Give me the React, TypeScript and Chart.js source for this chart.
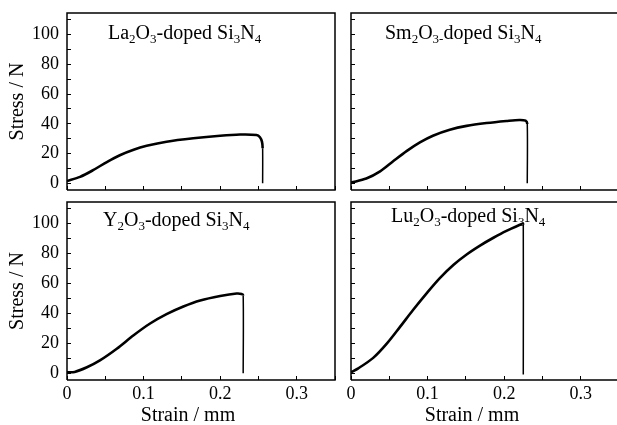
import React, { useEffect, useRef } from "react";
import { Chart, registerables } from "chart.js";

Chart.register(...registerables);

// ---------- data ----------
const X_TICKS = [0, 0.05, 0.1, 0.15, 0.2, 0.25, 0.3, 0.35];
const X_TICK_LABELS = ["0", "", "0.1", "", "0.2", "", "0.3", ""];
const Y_TICKS = [0, 10, 20, 30, 40, 50, 60, 70, 80, 90, 100, 110];
const Y_TICK_LABELS = ["0", "", "20", "", "40", "", "60", "", "80", "", "100", ""];

const X_TITLE = "Strain / mm";
const Y_TITLE = "Stress / N";

const LA_STRAIN = [0, 0.017, 0.034, 0.052, 0.069, 0.087, 0.104, 0.13, 0.165, 0.2, 0.226, 0.2475, 0.252, 0.2546, 0.2555, 0.2555];
const LA_STRESS = [1.5, 4.3, 8.8, 14.3, 18.9, 22.6, 25.2, 28, 30.3, 32, 32.8, 32.5, 31, 28, 23.5, 0];

const SM_STRAIN = [0, 0.02, 0.038, 0.055, 0.073, 0.09, 0.107, 0.129, 0.151, 0.177, 0.203, 0.22, 0.228, 0.2302, 0.2302];
const SM_STRESS = [0.5, 3.2, 8, 14.8, 21.8, 27.5, 32, 36, 38.6, 40.5, 41.9, 42.6, 42.1, 39.9, 0];

const Y_STRAIN = [0, 0.01, 0.026, 0.043, 0.065, 0.087, 0.108, 0.13, 0.152, 0.174, 0.2, 0.2215, 0.228, 0.2301, 0.2301];
const Y_STRESS = [0.7, 0.9, 4, 8.6, 16.4, 25.4, 33.1, 39.5, 44.6, 48.6, 51.6, 53.3, 53, 52, 0];

const LU_STRAIN = [0, 0.0095, 0.029, 0.047, 0.064, 0.081, 0.099, 0.116, 0.134, 0.151, 0.169, 0.186, 0.203, 0.224, 0.225, 0.225];
const LU_STRESS = [0.7, 3.3, 10.3, 20, 31, 42.3, 53.6, 63.6, 72.5, 79.4, 85.5, 90.6, 95.2, 100, 99.5, -0.8];

// label pieces: [text, isSubscript]
const LA_LABEL: [string, boolean][] = [["La", false], ["2", true], ["O", false], ["3", true], ["-doped Si", false], ["3", true], ["N", false], ["4", true]];
const SM_LABEL: [string, boolean][] = [["Sm", false], ["2", true], ["O", false], ["3-", true], ["doped Si", false], ["3", true], ["N", false], ["4", true]];
const Y_LABEL: [string, boolean][] = [["Y", false], ["2", true], ["O", false], ["3", true], ["-doped Si", false], ["3", true], ["N", false], ["4", true]];
const LU_LABEL: [string, boolean][] = [["Lu", false], ["2", true], ["O", false], ["3", true], ["-doped Si", false], ["3", true], ["N", false], ["4", true]];

// ---------- layout / style ----------
const W = 617;
const H = 425;
const FONT = "'Liberation Serif', 'Times New Roman', serif";
const Y_AXIS_W = 67;
const X_AXIS_H = 45;
const X_MIN = 0;
const X_MAX_LEFT = 0.35;
const Y_MIN = -4.5;
const Y_MAX = 114.5;

type Panel = {
  strain: number[];
  stress: number[];
  label: [string, boolean][];
  rect: { l: number; t: number; r: number; b: number };
  showY: boolean;
  showX: boolean;
  rightBorder: boolean;
  note: { dx: number; dy: number };
};

const PANELS: Panel[] = [
  { strain: LA_STRAIN, stress: LA_STRESS, label: LA_LABEL, rect: { l: 67, t: 13, r: 335, b: 190 }, showY: true, showX: false, rightBorder: true, note: { dx: 41, dy: 25.5 } },
  { strain: SM_STRAIN, stress: SM_STRESS, label: SM_LABEL, rect: { l: 351, t: 13, r: 617, b: 190 }, showY: false, showX: false, rightBorder: false, note: { dx: 34, dy: 25.5 } },
  { strain: Y_STRAIN, stress: Y_STRESS, label: Y_LABEL, rect: { l: 67, t: 202, r: 335, b: 380 }, showY: true, showX: true, rightBorder: true, note: { dx: 36, dy: 24 } },
  { strain: LU_STRAIN, stress: LU_STRESS, label: LU_LABEL, rect: { l: 351, t: 202, r: 617, b: 380 }, showY: false, showX: true, rightBorder: false, note: { dx: 40, dy: 20 } },
];

const framePlugin = {
  id: "panelFrame",
  afterDraw(chart: any, _args: any, opts: any) {
    const { ctx, chartArea: a } = chart;
    ctx.save();
    ctx.strokeStyle = "#000";
    ctx.lineWidth = 1.5;
    ctx.beginPath();
    ctx.moveTo(a.left, a.bottom);
    ctx.lineTo(a.left, a.top);
    ctx.lineTo(a.right, a.top);
    if (opts.rightBorder) {
      ctx.lineTo(a.right, a.bottom);
    } else {
      ctx.moveTo(a.right, a.bottom);
    }
    ctx.lineTo(a.left, a.bottom);
    ctx.stroke();

    // annotation with subscripts
    ctx.fillStyle = "#000";
    ctx.textBaseline = "alphabetic";
    ctx.textAlign = "left";
    let x = a.left + opts.note.dx;
    const y = a.top + opts.note.dy;
    for (const [t, sub] of opts.label as [string, boolean][]) {
      ctx.font = sub ? `13px ${FONT}` : `20px ${FONT}`;
      ctx.fillText(t, x, sub ? y + 4 : y);
      x += ctx.measureText(t).width;
    }

    if (opts.showX) {
      ctx.font = `20px ${FONT}`;
      ctx.textAlign = "center";
      ctx.fillText(X_TITLE, a.left + 121, a.bottom + 41);
    }
    ctx.restore();
  },
};

function PanelChart({ p }: { p: Panel }) {
  const ref = useRef<HTMLCanvasElement | null>(null);
  useEffect(() => {
    if (!ref.current) return;
    const xMax = p.rightBorder ? X_MAX_LEFT : (X_MAX_LEFT * (p.rect.r - p.rect.l)) / (335 - 67);
    const n = p.strain.length;
    const chart = new Chart(ref.current, {
      type: "line",
      data: {
        datasets: [
          {
            data: p.strain.map((x, i) => ({ x, y: p.stress[i] })),
            borderColor: "#000",
            borderWidth: 2.6,
            pointRadius: 0,
            tension: 0.3,
            fill: false,
            segment: {
              borderWidth: (c: any) => (c.p1DataIndex === n - 1 ? 1.5 : undefined),
            },
          } as any,
        ],
      },
      options: {
        responsive: false,
        animation: false,
        events: [],
        layout: {
          padding: {
            left: p.showY ? p.rect.l - Y_AXIS_W : p.rect.l,
            top: p.rect.t,
            right: W - p.rect.r,
            bottom: p.showX ? H - p.rect.b - X_AXIS_H : H - p.rect.b,
          },
        },
        plugins: {
          legend: { display: false },
          tooltip: { enabled: false },
          title: { display: false },
          panelFrame: { rightBorder: p.rightBorder, label: p.label, note: p.note, showX: p.showX },
        } as any,
        scales: {
          x: {
            type: "linear",
            min: X_MIN,
            max: xMax,
            afterBuildTicks: (s: any) => {
              s.ticks = X_TICKS.filter((v) => v <= xMax + 1e-9).map((v) => ({ value: v }));
            },
            afterFit: (s: any) => {
              s.height = p.showX ? X_AXIS_H : 0;
              s.paddingLeft = 0;
              s.paddingRight = 0;
              s.paddingTop = 0;
              s.paddingBottom = 0;
            },
            border: { display: false },
            grid: { drawOnChartArea: false, drawTicks: true, tickLength: -4, color: "#000", tickColor: "#000", tickWidth: 1 },
            ticks: {
              display: p.showX,
              autoSkip: false,
              maxRotation: 0,
              padding: 7,
              color: "#000",
              font: { family: FONT, size: 18 },
              callback: (v: any) => {
                const i = X_TICKS.findIndex((t) => Math.abs(t - Number(v)) < 1e-9);
                return i >= 0 ? X_TICK_LABELS[i] : "";
              },
            },
          },
          y: {
            type: "linear",
            min: Y_MIN,
            max: Y_MAX,
            afterBuildTicks: (s: any) => {
              s.ticks = Y_TICKS.map((v) => ({ value: v }));
            },
            afterFit: (s: any) => {
              s.width = p.showY ? Y_AXIS_W : 0;
              s.paddingLeft = 0;
              s.paddingRight = 0;
              s.paddingTop = 0;
              s.paddingBottom = 0;
            },
            border: { display: false },
            grid: { drawOnChartArea: false, drawTicks: true, tickLength: -4, color: "#000", tickColor: "#000", tickWidth: 1 },
            title: {
              display: p.showY,
              text: Y_TITLE,
              color: "#000",
              font: { family: FONT, size: 20 },
              padding: { top: 5.5, bottom: 0 },
            },
            ticks: {
              display: p.showY,
              autoSkip: false,
              padding: 12,
              color: "#000",
              font: { family: FONT, size: 18 },
              callback: (v: any) => {
                const i = Y_TICKS.indexOf(Number(v));
                return i >= 0 ? Y_TICK_LABELS[i] : "";
              },
            },
          },
        },
      } as any,
      plugins: [framePlugin],
    });
    return () => chart.destroy();
  }, [p]);
  return (
    <canvas
      ref={ref}
      width={W}
      height={H}
      style={{ position: "absolute", left: 0, top: 0, width: W, height: H }}
    />
  );
}

export default function App() {
  return (
    <div style={{ position: "absolute", left: 0, top: 0, width: W, height: H, overflow: "hidden", background: "#fff" }}>
      {PANELS.map((p, i) => (
        <PanelChart key={i} p={p} />
      ))}
    </div>
  );
}
